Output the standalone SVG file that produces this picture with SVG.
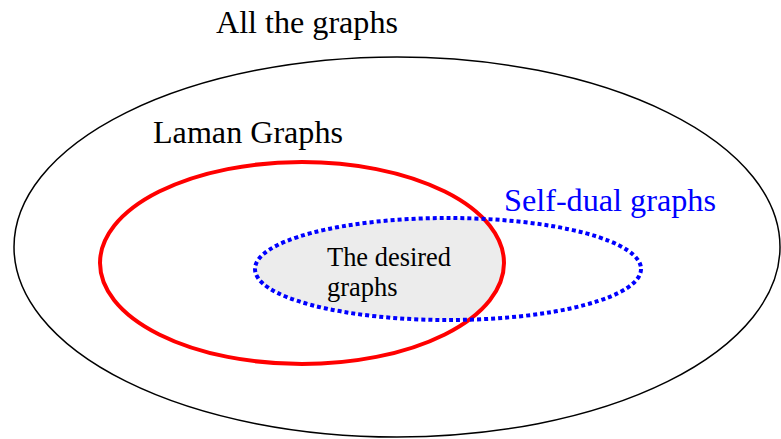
<svg xmlns="http://www.w3.org/2000/svg" width="781" height="439" viewBox="0 0 781 439">
<style>
text{font-family:"Liberation Serif","Times New Roman",serif;}
.big{font-size:32px;}
.small{font-size:26.5px;}
</style>
<defs>
<clipPath id="redClip"><ellipse cx="302" cy="263" rx="202" ry="101"/></clipPath>
</defs>
<rect width="781" height="439" fill="#fff"/>
<g id="all">
<ellipse cx="397" cy="247" rx="383" ry="190" fill="none" stroke="#000" stroke-width="1.5"/>
<text class="big" x="216" y="33" textLength="182" lengthAdjust="spacingAndGlyphs">All the graphs</text>
</g>
<g id="desired">
<ellipse cx="448" cy="269" rx="193" ry="51" fill="#ececec" clip-path="url(#redClip)"/>
<text class="small" x="327" y="266" textLength="124" lengthAdjust="spacingAndGlyphs">The desired</text>
<text class="small" x="327" y="296">graphs</text>
</g>
<g id="laman">
<ellipse cx="302" cy="263" rx="202" ry="101" fill="none" stroke="#f00" stroke-width="4"/>
<text class="big" x="153" y="143" textLength="190" lengthAdjust="spacingAndGlyphs">Laman Graphs</text>
</g>
<g id="selfdual">
<ellipse cx="448" cy="269" rx="193" ry="51" fill="none" stroke="#00f" stroke-width="4" stroke-dasharray="4 3"/>
<text class="big" x="504" y="211" fill="#00f" textLength="212" lengthAdjust="spacingAndGlyphs">Self-dual graphs</text>
</g>
<g id="connectors"/>
</svg>
